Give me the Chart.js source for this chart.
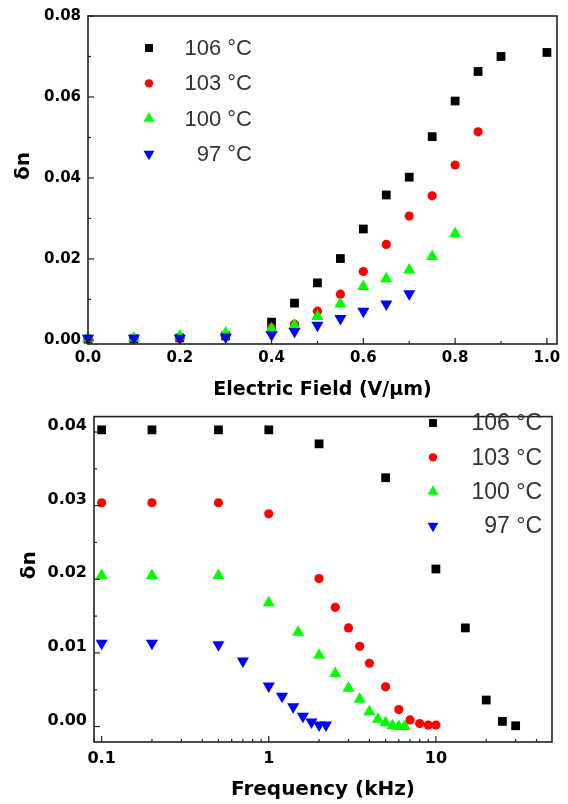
<!DOCTYPE html>
<html>
<head>
    <meta charset="utf-8">
    <title>Birefringence vs field and frequency</title>
    <script src="https://cdn.jsdelivr.net/npm/chart.js"></script>
    <style>
        body {
            margin: 0;
            background: white;
        }
        .panel {
            position: relative;
            width: 568px;
        }
        #fieldPanel { height: 400px; }
        #freqPanel { height: 404px; }
    </style>
</head>
<body>
    <div class="panel" id="fieldPanel"><canvas id="fieldChart"></canvas></div>
    <div class="panel" id="freqPanel"><canvas id="freqChart"></canvas></div>

    <script>
        // Series labels
        const seriesLabels = ['106 °C', '103 °C', '100 °C', '97 °C'];

        // Top panel: δn vs electric field (V/μm)
        const field106 = [0, 0.1, 0.2, 0.3, 0.4, 0.45, 0.5, 0.55, 0.6, 0.65, 0.7, 0.75, 0.8, 0.85, 0.9, 1.0];
        const dn106 = [0.0002, 0.0003, 0.0005, 0.001, 0.0044, 0.0091, 0.0141, 0.0201, 0.0274, 0.0358, 0.0402, 0.0502, 0.0590, 0.0663, 0.0700, 0.0710];
        const field103 = [0, 0.1, 0.2, 0.3, 0.4, 0.45, 0.5, 0.55, 0.6, 0.65, 0.7, 0.75, 0.8, 0.85];
        const dn103 = [0.0001, 0.0004, 0.0004, 0.0008, 0.003, 0.0039, 0.0071, 0.0113, 0.0169, 0.0236, 0.0306, 0.0356, 0.0432, 0.0514];
        const field100 = [0, 0.1, 0.2, 0.3, 0.4, 0.45, 0.5, 0.55, 0.6, 0.65, 0.7, 0.75, 0.8];
        const dn100 = [0.0005, 0.0005, 0.0010, 0.0017, 0.0027, 0.0036, 0.0058, 0.0089, 0.0132, 0.0151, 0.0173, 0.0206, 0.0262];
        const field97 = [0, 0.1, 0.2, 0.3, 0.4, 0.45, 0.5, 0.55, 0.6, 0.65, 0.7];
        const dn97 = [0.0004, 0.0004, 0.0004, 0.0007, 0.0013, 0.0021, 0.0036, 0.0053, 0.0071, 0.0089, 0.0114];
        const fieldTicks = [0, 0.2, 0.4, 0.6, 0.8, 1.0];
        const fieldDnTicks = [0, 0.02, 0.04, 0.06, 0.08];

        // Bottom panel: δn vs frequency (kHz)
        const freq106 = [0.1, 0.2, 0.5, 1, 2, 5, 10, 15, 20, 25, 30];
        const fdn106 = [0.0403, 0.0403, 0.0403, 0.0403, 0.0384, 0.0338, 0.0214, 0.0134, 0.0036, 0.0007, 0.0001];
        const freq103 = [0.1, 0.2, 0.5, 1, 2, 2.5, 3, 3.5, 4, 5, 6, 7, 8, 9, 10];
        const fdn103 = [0.0304, 0.0304, 0.0304, 0.0289, 0.0201, 0.0162, 0.0134, 0.0109, 0.0086, 0.0054, 0.0023, 0.0009, 0.0004, 0.0002, 0.0002];
        const freq100 = [0.1, 0.2, 0.5, 1, 1.5, 2, 2.5, 3, 3.5, 4, 4.5, 5, 5.5, 6, 6.5];
        const fdn100 = [0.0205, 0.0205, 0.0205, 0.0168, 0.0128, 0.0097, 0.0072, 0.0052, 0.0037, 0.0020, 0.0010, 0.0005, 0.0001, 0.0, 0.0];
        const freq97 = [0.1, 0.2, 0.5, 0.7, 1, 1.2, 1.4, 1.6, 1.8, 2, 2.2];
        const fdn97 = [0.0113, 0.0113, 0.0111, 0.0089, 0.0055, 0.0041, 0.0027, 0.0014, 0.0006, 0.0002, 0.0002];
        const freqTicks = [0.1, 1, 10];
        const freqDnTicks = [0, 0.01, 0.02, 0.03, 0.04];

        const pts = (xs, ys) => xs.map((x, i) => ({x: x, y: ys[i]}));

        // marker styles per series (square, circle, up triangle, down triangle)
        const markers = [
            {color: '#000000', pointStyle: 'rect', pointRadius: 6.2, pointRotation: 0, order: 4},
            {color: '#ff0000', pointStyle: 'circle', pointRadius: 4.6, pointRotation: 0, order: 3},
            {color: '#00ff00', pointStyle: 'triangle', pointRadius: 7, pointRotation: 0, order: 2},
            {color: '#0000ff', pointStyle: 'triangle', pointRadius: 7, pointRotation: 180, order: 1}
        ];

        function makeDatasets(series) {
            return series.map((data, i) => ({
                label: seriesLabels[i],
                data: data,
                backgroundColor: markers[i].color,
                borderColor: markers[i].color,
                pointStyle: markers[i].pointStyle,
                pointRadius: markers[i].pointRadius,
                pointRotation: markers[i].pointRotation,
                pointBorderWidth: 0,
                order: markers[i].order,
                showLine: false,
                clip: false
            }));
        }

        // frame box + inward major/minor ticks, Origin style
        const frameTicks = {
            id: 'frameTicks',
            afterDraw(chart) {
                const {ctx, chartArea: a} = chart;
                ctx.save();
                ctx.strokeStyle = '#222';
                ctx.lineWidth = 1.2;
                ['x', 'y'].forEach(id => {
                    const s = chart.scales[id];
                    const major = s.ticks.map(t => t.value);
                    let minor = [];
                    if (s.type === 'logarithmic') {
                        for (let e = Math.floor(Math.log10(s.min)); e <= Math.ceil(Math.log10(s.max)); e++) {
                            for (let k = 2; k <= 9; k++) minor.push(k * Math.pow(10, e));
                        }
                    } else {
                        for (let i = 0; i < major.length - 1; i++) minor.push((major[i] + major[i + 1]) / 2);
                    }
                    minor = minor.filter(v => v >= s.min && v <= s.max);
                    const mark = (v, len) => {
                        const p = s.getPixelForValue(v);
                        ctx.beginPath();
                        if (id === 'x') {
                            ctx.moveTo(p, a.bottom);
                            ctx.lineTo(p, a.bottom - len);
                        } else {
                            ctx.moveTo(a.left, p);
                            ctx.lineTo(a.left + len, p);
                        }
                        ctx.stroke();
                    };
                    major.forEach(v => mark(v, 6));
                    minor.forEach(v => mark(v, 3));
                });
                ctx.lineWidth = 1.6;
                ctx.strokeRect(a.left, a.top, a.right - a.left, a.bottom - a.top);
                ctx.restore();
            }
        };

        // legend drawn inside the plot box
        const boxLegend = {
            id: 'boxLegend',
            afterDraw(chart, args, o) {
                const ctx = chart.ctx;
                ctx.save();
                ctx.font = o.font;
                ctx.textAlign = 'right';
                ctx.textBaseline = 'middle';
                chart.data.datasets.forEach((ds, i) => {
                    const y = o.y + i * o.gap;
                    ctx.fillStyle = ds.backgroundColor;
                    Chart.helpers.drawPoint(ctx, {
                        pointStyle: ds.pointStyle,
                        rotation: ds.pointRotation,
                        radius: ds.pointRadius * 0.9,
                        borderWidth: 0
                    }, o.markerX, y);
                    ctx.fillStyle = '#333';
                    ctx.fillText(ds.label, o.textX, y + 1);
                });
                ctx.restore();
            }
        };

        const setTicks = list => scale => { scale.ticks = list.map(v => ({value: v})); };

        function axisOptions(o) {
            return {
                type: o.type || 'linear',
                min: o.min,
                max: o.max,
                afterBuildTicks: setTicks(o.ticks),
                afterFit: o.fit,
                grid: {display: false, drawTicks: false},
                border: {display: false},
                ticks: {
                    autoSkip: false,
                    maxRotation: 0,
                    padding: o.pad,
                    labelOffset: o.labelOffset || 0,
                    color: '#000',
                    font: {family: 'DejaVu Sans', size: o.tickSize, weight: 'bold'},
                    callback: o.format
                },
                title: {
                    display: true,
                    text: o.title,
                    color: '#000',
                    font: {family: 'DejaVu Sans', size: o.titleSize, weight: 'bold', lineHeight: 1},
                    padding: o.titlePad
                }
            };
        }

        Chart.defaults.animation = false;

        new Chart(document.getElementById('fieldChart'), {
            type: 'scatter',
            data: {
                datasets: makeDatasets([
                    pts(field106, dn106), pts(field103, dn103),
                    pts(field100, dn100), pts(field97, dn97)
                ])
            },
            options: {
                responsive: true,
                maintainAspectRatio: false,
                layout: {padding: {left: 0, right: 11, top: 16, bottom: 0}},
                plugins: {
                    legend: {display: false},
                    tooltip: {enabled: false},
                    boxLegend: {font: '22px "Liberation Sans"', markerX: 149, textX: 252, y: 48, gap: 35.3}
                },
                scales: {
                    x: axisOptions({
                        min: 0, max: 1.022, ticks: fieldTicks, pad: 5, tickSize: 15,
                        fit: s => { s.height = 56; },
                        format: v => v.toFixed(1),
                        title: 'Electric Field (V/μm)', titleSize: 19,
                        titlePad: {top: 0, bottom: 0}
                    }),
                    y: axisOptions({
                        min: -0.001, max: 0.08, ticks: fieldDnTicks, pad: 7, tickSize: 15,
                        fit: s => { s.width = 88; },
                        format: v => v.toFixed(2),
                        title: '    δn', titleSize: 20,
                        titlePad: {top: 14, bottom: 0}
                    })
                }
            },
            plugins: [frameTicks, boxLegend]
        });

        new Chart(document.getElementById('freqChart'), {
            type: 'scatter',
            data: {
                datasets: makeDatasets([
                    pts(freq106, fdn106), pts(freq103, fdn103),
                    pts(freq100, fdn100), pts(freq97, fdn97)
                ])
            },
            options: {
                responsive: true,
                maintainAspectRatio: false,
                layout: {padding: {left: 0, right: 16, top: 6, bottom: 0}},
                plugins: {
                    legend: {display: false},
                    tooltip: {enabled: false},
                    boxLegend: {font: '23px "Liberation Sans"', markerX: 433, textX: 542, y: 23, gap: 34.3}
                },
                scales: {
                    x: axisOptions({
                        type: 'logarithmic',
                        min: 0.09, max: 49.5, ticks: freqTicks, pad: 7, tickSize: 16,
                        fit: s => { s.height = 62; },
                        format: v => String(v),
                        title: 'Frequency (kHz)', titleSize: 20,
                        titlePad: {top: 0, bottom: 4}
                    }),
                    y: axisOptions({
                        min: -0.0021, max: 0.0421, ticks: freqDnTicks, pad: 7, tickSize: 16,
                        labelOffset: -6,
                        fit: s => { s.width = 94; },
                        format: v => v.toFixed(2),
                        title: '    δn', titleSize: 20,
                        titlePad: {top: 20, bottom: 0}
                    })
                }
            },
            plugins: [frameTicks, boxLegend]
        });
    </script>
</body>
</html>
